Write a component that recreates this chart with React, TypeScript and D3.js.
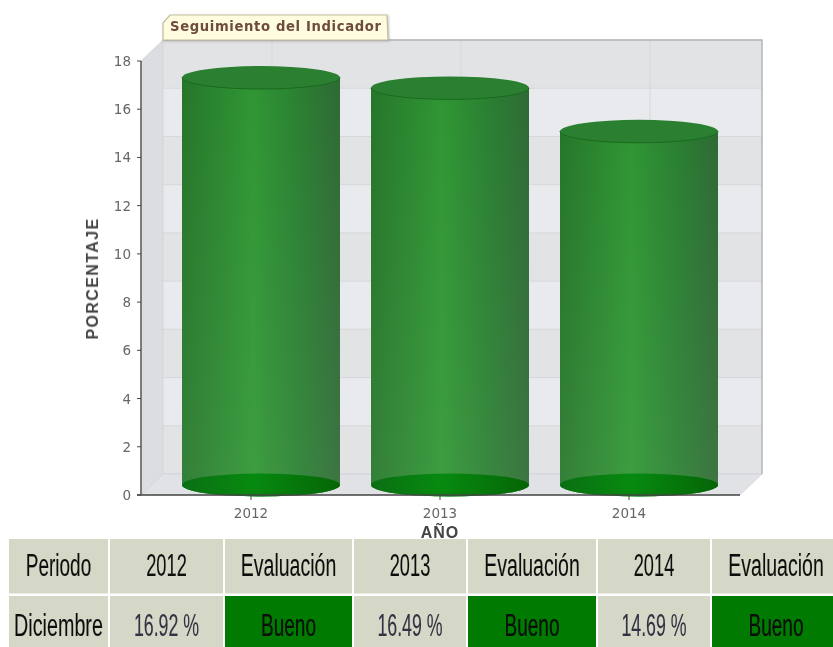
import React from "react";
import * as d3 from "d3";

const years = ["2012", "2013", "2014"];
const values = [16.92, 16.49, 14.69];
const evaluations = ["Bueno", "Bueno", "Bueno"];
const yTicks = [0, 2, 4, 6, 8, 10, 12, 14, 16, 18];
const periodLabel = "Diciembre";

const W = 833, H = 647;
const DX = 22, DY = 21;
const y = d3.scaleLinear().domain([0, 18]).range([495, 61]);
const x = d3.scalePoint<string>().domain(years).range([251, 629]);
const axisL = 141, axisR = 740;
const RX = 79, RY = 11.5, CYL_DX = 10, CYL_DY = 9.5;

const colEdges = [9, 110, 225, 354, 468, 598, 712, 842];
const rowEdges = [539, 596, 647];
const FONT = "'Liberation Sans', Arial, sans-serif";
const WIDE = "'DejaVu Sans', Verdana, sans-serif";

function Narrow({ cx, cy, text, sx, fill }: { cx: number; cy: number; text: string; sx: number; fill: string }) {
  return (
    <text transform={`translate(${cx},${cy}) scale(${sx},1)`} textAnchor="middle" fontFamily={FONT} fontSize={32} fill={fill} stroke={fill} strokeWidth={0.12} filter="url(#soft)">
      {text}
    </text>
  );
}

export default function App() {
  const bands = d3.range(0, 9).map((i) => ({ hi: (i + 1) * 2, lo: i * 2, i }));
  const wallT = y(18) - DY, wallB = y(0) - DY, wallL = axisL + DX, wallR = axisR + DX;
  const gridX = years.map((d) => (x(d) as number) + DX - 1);
  const header = ["Periodo", ...years.flatMap((d) => [d, "Evaluación"])];
  const row = [periodLabel, ...values.flatMap((v, i) => [`${v.toFixed(2)} %`, evaluations[i]])];
  const headerSx = (i: number) => (i === 0 ? 0.594 : i % 2 === 1 ? 0.57 : 0.61);
  const rowSx = (i: number) => (i === 0 ? 0.617 : i % 2 === 1 ? 0.556 : 0.595);
  return (
    <svg width={W} height={H} viewBox={`0 0 ${W} ${H}`} style={{ position: "absolute", left: 0, top: 0, background: "#fff" }}>
      <defs>
        <linearGradient id="body" x1="0" x2="1" y1="0" y2="0">
          <stop offset="0" stopColor="#26762a" />
          <stop offset="0.45" stopColor="#2f9633" />
          <stop offset="0.75" stopColor="#2a7f32" />
          <stop offset="1" stopColor="#2f6a35" />
        </linearGradient>
        <linearGradient id="veil" x1="0" x2="0" y1="0" y2="1">
          <stop offset="0" stopColor="#fff" stopOpacity="0" />
          <stop offset="1" stopColor="#fff" stopOpacity="0.07" />
        </linearGradient>
        <linearGradient id="base" x1="0" x2="1" y1="0" y2="0">
          <stop offset="0" stopColor="#0a6f12" />
          <stop offset="0.45" stopColor="#078a10" />
          <stop offset="1" stopColor="#056506" />
        </linearGradient>
        <filter id="soft" x="-5%" y="-20%" width="110%" height="140%">
          <feGaussianBlur stdDeviation="0.4" />
        </filter>
        <filter id="tagShadow" x="-5%" y="-10%" width="110%" height="130%">
          <feDropShadow dx="1" dy="1" stdDeviation="1" floodColor="#888" floodOpacity="0.5" />
        </filter>
      </defs>

      {/* back wall with alternating bands */}
      {bands.map((b) => (
        <rect key={b.i} x={wallL} y={y(b.hi) - DY} width={wallR - wallL} height={y(b.lo) - y(b.hi)} fill={b.i % 2 === 0 ? "#e2e3e5" : "#e8eaed"} />
      ))}
      {yTicks.map((t) => (
        <line key={t} x1={wallL} x2={wallR} y1={y(t) - DY} y2={y(t) - DY} stroke="#d6d7da" />
      ))}
      {gridX.map((gx) => (
        <line key={gx} x1={gx} x2={gx} y1={wallT} y2={wallB} stroke="#d6d7da" />
      ))}
      {/* left wall, floor */}
      <polygon points={`${axisL},${y(18)} ${wallL},${wallT} ${wallL},${wallB} ${axisL},${y(0)}`} fill="#dcdde0" stroke="#cfd0d3" strokeWidth={0.7} />
      <polygon points={`${axisL},${y(0)} ${wallL},${wallB} ${wallR},${wallB} ${axisR},${y(0)}`} fill="#e0e2e5" stroke="#cfd0d3" strokeWidth={0.7} />
      <polyline points={`${wallL},${wallT} ${wallR},${wallT} ${wallR},${wallB}`} fill="none" stroke="#b4b5b8" strokeWidth={1.5} />

      {/* tag title */}
      <polygon points={`170,15 387,15 388,40 163,40 163,23`} fill="#fffce0" stroke="#c2bd9c" strokeWidth={1.2} filter="url(#tagShadow)" />
      <text x={170} y={31} fontFamily={WIDE} fontSize={13.2} fontWeight={700} letterSpacing={0.63} fill="#6e4c3e" filter="url(#soft)">Seguimiento del Indicador</text>

      {/* cylinders */}
      {years.map((d, i) => {
        const cx = (x(d) as number) + CYL_DX;
        const top = y(values[i]) - CYL_DY;
        const bot = y(0) - CYL_DY - 0.5;
        const path = `M${cx - RX},${top} L${cx - RX},${bot} A${RX},${RY} 0 0 0 ${cx + RX},${bot} L${cx + RX},${top} Z`;
        return (
          <g key={d}>
            <path d={path} fill="url(#body)" />
            <path d={path} fill="url(#veil)" />
            <ellipse cx={cx} cy={bot} rx={RX} ry={RY} fill="url(#base)" />
            <ellipse cx={cx} cy={top} rx={RX} ry={RY} fill="#2a8030" />
            <path d={`M${cx - RX},${top} A${RX},${RY} 0 0 0 ${cx + RX},${top}`} fill="none" stroke="#1a6a1e" strokeWidth={1} />
          </g>
        );
      })}

      {/* axes */}
      <line x1={axisL} x2={axisL} y1={y(18)} y2={y(0)} stroke="#444" strokeWidth={1.3} />
      <line x1={axisL - 4} x2={axisR} y1={y(0)} y2={y(0)} stroke="#444" strokeWidth={1.3} />
      {yTicks.map((t) => (
        <g key={t}>
          <line x1={axisL - 4} x2={axisL} y1={y(t)} y2={y(t)} stroke="#444" />
          <text x={axisL - 10} y={y(t) + 5} textAnchor="end" fontFamily={WIDE} fontSize={13.5} fill="#666" filter="url(#soft)">{t}</text>
        </g>
      ))}
      {years.map((d) => (
        <g key={d}>
          <line x1={x(d) as number} x2={x(d) as number} y1={y(0)} y2={y(0) + 5} stroke="#444" />
          <text x={x(d) as number} y={y(0) + 23} textAnchor="middle" fontFamily={WIDE} fontSize={13.5} fill="#666" filter="url(#soft)">{d}</text>
        </g>
      ))}
      <text transform="translate(98,278.5) rotate(-90)" textAnchor="middle" fontFamily={FONT} fontSize={16} fontWeight={700} letterSpacing={1.4} fill="#444" filter="url(#soft)">PORCENTAJE</text>
      <text x={440} y={538} textAnchor="middle" fontFamily={FONT} fontSize={16} fontWeight={700} letterSpacing={1} fill="#444" filter="url(#soft)">AÑO</text>

      {/* table */}
      {header.map((h, i) => {
        const l = colEdges[i], r = colEdges[i + 1] - 2;
        return (
          <g key={`h${i}`}>
            <rect x={l} y={rowEdges[0]} width={r - l} height={rowEdges[1] - rowEdges[0] - 2.5} fill="#d5d8c6" />
            <Narrow cx={(l + r) / 2} cy={576} text={h} sx={headerSx(i)} fill="#111" />
          </g>
        );
      })}
      {row.map((c, i) => {
        const l = colEdges[i], r = colEdges[i + 1] - 2;
        const isEval = i > 0 && i % 2 === 0;
        return (
          <g key={`r${i}`}>
            <rect x={l} y={rowEdges[1]} width={r - l} height={rowEdges[2] - rowEdges[1]} fill={isEval ? "#007a00" : "#d5d8c6"} />
            <Narrow cx={(l + r) / 2} cy={636} text={c} sx={rowSx(i)} fill={i === 0 ? "#111" : isEval ? "#0a0a0a" : "#334"} />
          </g>
        );
      })}
    </svg>
  );
}
